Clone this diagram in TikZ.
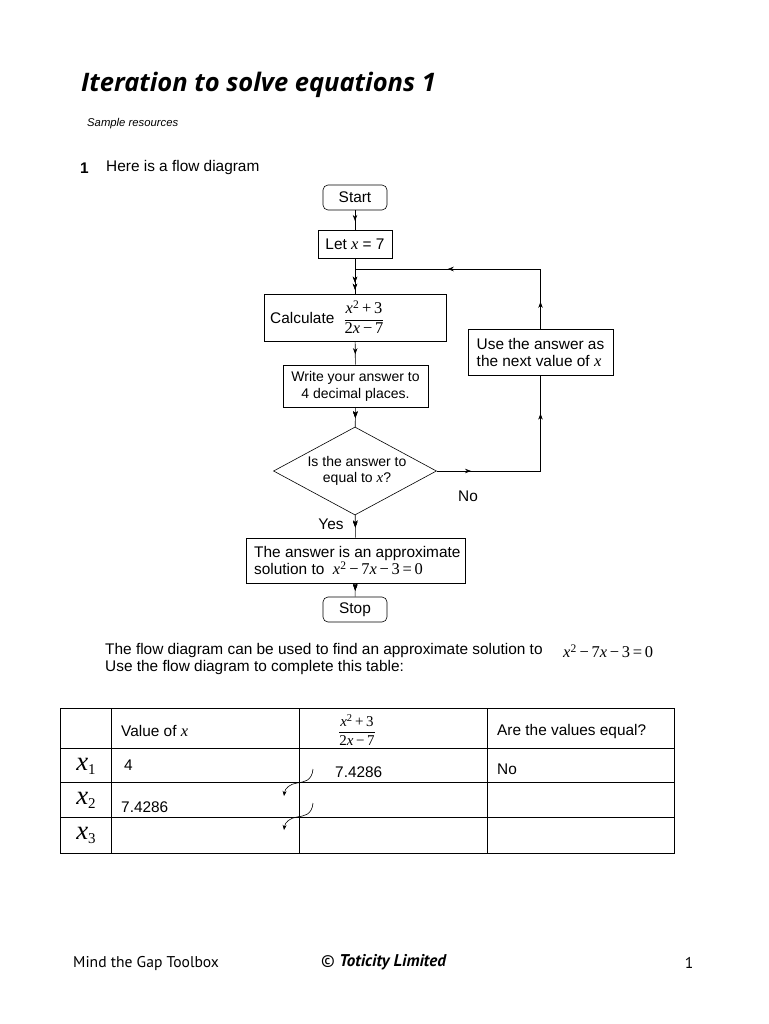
\documentclass[tikz,border=0pt]{standalone}
\usepackage{fontspec}
\setmainfont{Liberation Sans}
\newfontfamily\tms[Scale=1.07]{Liberation Serif}
\newfontfamily\ptsans{PT Sans}
\newfontfamily\ttlfont{Open Sans}
\usetikzlibrary{shapes.geometric,arrows.meta,decorations.markings}
\newcommand\vx{{\tms\itshape x}}
\newcommand\myfrac{\ensuremath{\displaystyle\frac{\hbox{\tms\itshape x\textsuperscript{\upshape 2}\upshape\,+\,3}}{\hbox{\tms 2\itshape x\upshape\,−\,7}}}}
\newcommand\myeq{{\tms\itshape x\textsuperscript{\upshape 2}\upshape\,−\,7\itshape x\upshape\,−\,3\,=\,0}}
\newcommand\xsub[1]{{\tms\itshape\fontsize{25}{25}\selectfont x\raisebox{-4pt}{\upshape\fontsize{14}{14}\selectfont #1}}}
\tikzset{
  fbox/.style={draw, line width=0.6pt, inner sep=0pt, align=center, font=\fontsize{15.4}{17}\selectfont},
  term/.style={fbox, rounded corners=5pt},
  amark/.style={postaction={decorate}, decoration={markings, mark=at position #1 with {\arrow{Stealth[length=6pt,width=4.5pt]}}}},
  conn/.style={line width=0.6pt, amark=0.55},
  txt/.style={inner sep=0pt, anchor=west, font=\fontsize{15.4}{17}\selectfont},
  tline/.style={line width=0.6pt}
}
\begin{document}
\begin{tikzpicture}[x=1pt,y=-1pt]
\useasboundingbox (0,0) rectangle (768,1024);
% header
\node[inner sep=0pt, anchor=base west, font=\ttlfont\bfseries\itshape\fontsize{25.5}{28}\selectfont] (title) at (81,92) {Iteration to solve equations 1};
\node[inner sep=0pt, anchor=west, font=\itshape\fontsize{11.3}{13}\selectfont] (sample) at (87,124) {Sample resources};
\node[inner sep=0pt, anchor=west, font=\bfseries\fontsize{15.4}{17}\selectfont] (qnum) at (80,168) {1};
\node[txt] (intro) at (106,168) {Here is a flow diagram};
% flow chart
\node[term, minimum width=64pt, minimum height=25pt] (start) at (355,197.5) {Start};
\node[fbox, minimum width=74pt, minimum height=28pt] (let) at (355,244) {Let \vx{} = 7};
\node[fbox, minimum width=182pt, minimum height=47pt] (calc) at (355,317.5) {};
\node[inner sep=0pt, anchor=west, font=\fontsize{15.4}{17}\selectfont] (calct) at (270,318) {Calculate};
\node[inner sep=0pt, font=\fontsize{15.4}{17}\selectfont] (calcf) at (364,317) {\myfrac};
\node[fbox, minimum width=145pt, minimum height=42pt, font=\fontsize{14}{17}\selectfont] (write) at (355.5,386) {Write your answer to\\4 decimal places.};
\node[draw, line width=0.6pt, diamond, aspect=1.86, minimum width=163pt, minimum height=88pt, inner sep=0pt] (dia) at (355,471) {};
\node[inner sep=0pt, align=center, font=\fontsize{14}{16}\selectfont] (diat) at (357,471) {Is the answer to\\equal to \vx?};
\node[fbox, minimum width=219pt, minimum height=45pt, align=left] (ans) at (355.5,560.5) {};
\node[inner sep=0pt, anchor=west, align=left, font=\fontsize{15.4}{17}\selectfont] (anst) at (254,560.5) {The answer is an approximate\\solution to\ \ \myeq};
\node[term, minimum width=64pt, minimum height=25pt] (stop) at (355,609.5) {Stop};
\node[fbox, minimum width=145pt, minimum height=46pt, align=left] (use) at (540.5,352) {Use the answer as\\the next value of \vx};
\node[inner sep=0pt, font=\fontsize{15.4}{17}\selectfont] (no) at (468,496) {No};
\node[inner sep=0pt, font=\fontsize{15.4}{17}\selectfont] (yes) at (331,524) {Yes};
\coordinate (merge) at (355,269);
\coordinate (rt) at (540.5,471);
\coordinate (rtop) at (540.5,269);
\draw[conn] (start) -- (let);
\draw[line width=0.6pt] (let) -- (merge);
\draw[conn, amark=-4pt] (merge) -- (calc);
\draw[conn] (calc) -- (write);
\draw[conn, amark=0.5] (write) -- (dia);
\draw[conn, amark=0.5] (dia) -- (ans);
\draw[conn, amark=0.45] (ans) -- (stop);
\draw[line width=0.6pt, amark=0.33] (dia.east) -- (rt);
\draw[line width=0.6pt, amark=0.6] (rt) -- (use.south);
\draw[line width=0.6pt, amark=0.45] (use.north) -- (rtop);
\draw[line width=0.6pt, amark=0.5] (rtop) -- (merge);
% text under flow chart
\node[txt] (para1) at (105,651) {The flow diagram can be used to find an approximate solution to};
\node[txt] (para1eq) at (563,651) {\myeq};
\node[txt] (para2) at (105,668) {Use the flow diagram to complete this table:};
% table
\draw[tline] (60,708) rectangle (674,853);
\draw[tline] (60,748) -- (674,748);
\draw[tline] (60,782) -- (674,782);
\draw[tline] (60,817) -- (674,817);
\draw[tline] (111,708) -- (111,853);
\draw[tline] (299,708) -- (299,853);
\draw[tline] (487,708) -- (487,853);
\node[txt] (hval) at (121,731) {Value of \vx};
\node[inner sep=0pt, font=\fontsize{14}{16}\selectfont] (hfrac) at (357,730) {\myfrac};
\node[txt] (hequal) at (497,732) {Are the values equal?};
\node[inner sep=0pt] (r1) at (86,766) {\xsub{1}};
\node[inner sep=0pt] (r2) at (86,800) {\xsub{2}};
\node[inner sep=0pt] (r3) at (86,835) {\xsub{3}};
\node[txt] (c11) at (124,765) {4};
\node[txt] (c12) at (335,772) {7.4286};
\node[txt] (c13) at (497,769) {No};
\node[txt] (c21) at (121,807) {7.4286};
\coordinate (a1s) at (313,769);
\coordinate (a1e) at (284,796);
\coordinate (a2s) at (313,803);
\coordinate (a2e) at (284,830);
\draw[line width=0.6pt, -{Stealth[length=5pt,width=4pt]}] (a1s) .. controls (312,781) and (304,782) .. (297,783) .. controls (290,784) and (285,788) .. (a1e);
\draw[line width=0.6pt, -{Stealth[length=5pt,width=4pt]}] (a2s) .. controls (312,815) and (304,816) .. (297,817) .. controls (290,818) and (285,822) .. (a2e);
% footer
\node[inner sep=0pt, anchor=west, font=\ptsans\fontsize{15.6}{17}\selectfont] (foot1) at (73,963) {Mind the Gap Toolbox};
\node[inner sep=0pt, anchor=west, font=\ptsans\fontsize{17}{18}\selectfont] (foot2) at (321,962) {© \bfseries\itshape Toticity Limited};
\node[inner sep=0pt, font=\ptsans\fontsize{15.6}{17}\selectfont] (foot3) at (689,963) {1};
\end{tikzpicture}
\end{document}
